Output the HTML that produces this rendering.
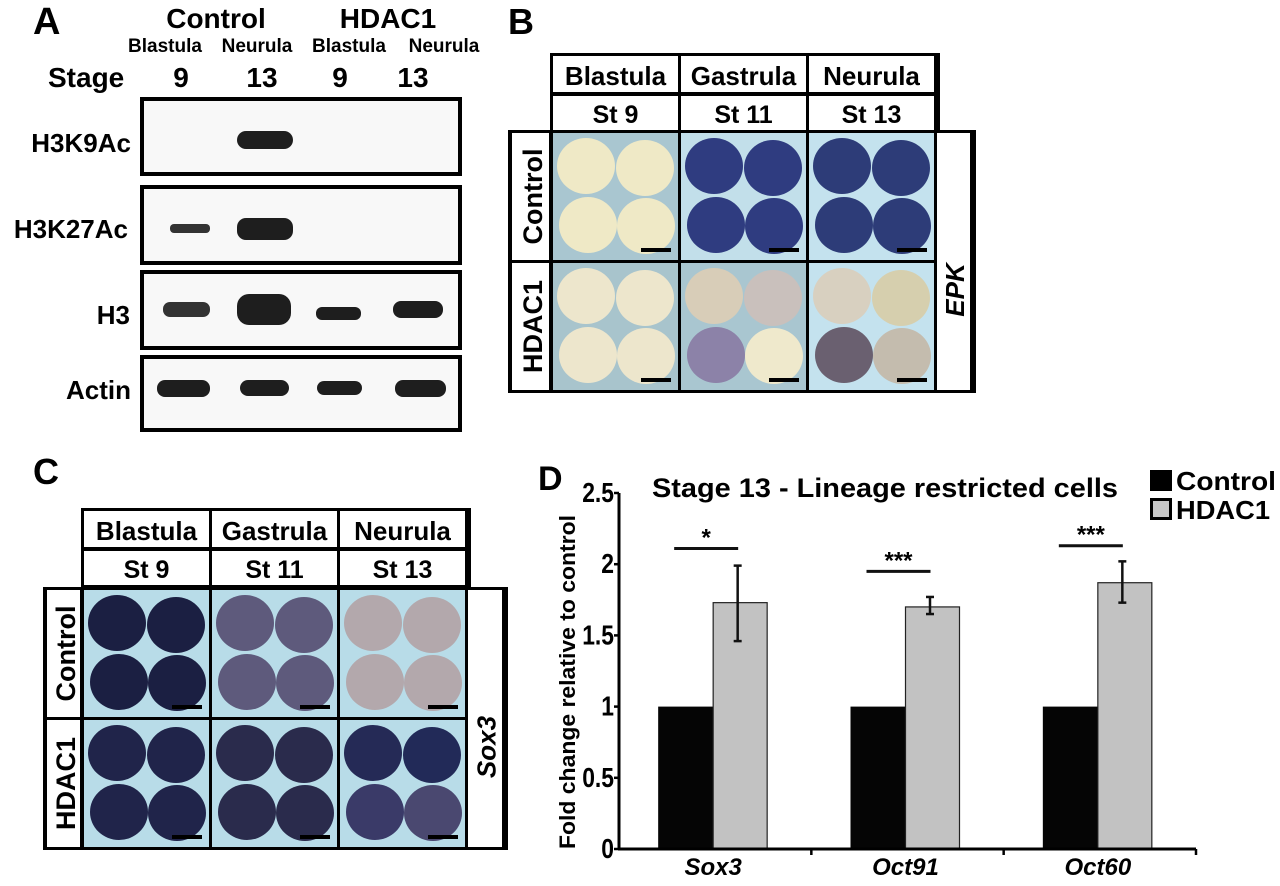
<!DOCTYPE html>
<html><head><meta charset="utf-8"><style>
html,body{margin:0;padding:0;background:#fff;}
svg{display:block;font-family:"Liberation Sans",sans-serif;font-weight:bold;}
</style></head><body>
<svg id="fig" width="1280" height="886" viewBox="0 0 1280 886" xmlns="http://www.w3.org/2000/svg">
<!-- Panel A -->
<g>
<text x="33" y="34" font-size="38">A</text>
<text x="216" y="28" font-size="28" text-anchor="middle">Control</text>
<text x="388" y="28" font-size="28" text-anchor="middle">HDAC1</text>
<g font-size="19" text-anchor="middle">
<text x="165" y="52">Blastula</text>
<text x="257" y="52">Neurula</text>
<text x="349" y="52">Blastula</text>
<text x="444" y="52">Neurula</text>
</g>
<g font-size="28">
<text x="48" y="87">Stage</text>
<text x="181" y="87" text-anchor="middle">9</text>
<text x="262" y="87" text-anchor="middle">13</text>
<text x="340" y="87" text-anchor="middle">9</text>
<text x="413" y="87" text-anchor="middle">13</text>
</g>
<g font-size="26" text-anchor="end">
<text x="131" y="152">H3K9Ac</text>
<text x="128" y="238">H3K27Ac</text>
<text x="130" y="324">H3</text>
<text x="131" y="399">Actin</text>
</g>
<g fill="#f8f8f8" stroke="#000" stroke-width="4">
<rect x="142" y="99" width="318" height="75"/>
<rect x="142" y="187" width="318" height="76"/>
<rect x="142" y="272" width="318" height="76"/>
<rect x="142" y="357" width="318" height="73"/>
</g>
<g fill="#1e1e1e">
<rect x="237" y="131" width="56" height="18" rx="9"/>
<rect x="170" y="224" width="40" height="9" rx="4" fill="#333"/>
<rect x="237" y="218" width="56" height="22" rx="9"/>
<rect x="163" y="302" width="47" height="15" rx="7" fill="#333"/>
<rect x="237" y="294" width="54" height="31" rx="12"/>
<rect x="316" y="307" width="45" height="13" rx="6"/>
<rect x="393" y="301" width="50" height="17" rx="8"/>
<rect x="157" y="380" width="53" height="17" rx="8"/>
<rect x="240" y="380" width="49" height="16" rx="8"/>
<rect x="317" y="381" width="45" height="14" rx="7"/>
<rect x="395" y="380" width="51" height="17" rx="8"/>
</g>
</g>
<!-- Panel B -->
<g>
<text x="508" y="34" font-size="36">B</text>
<g id="gridB"></g>
</g>
<!-- Panel C -->
<g>
<text x="33" y="484" font-size="36">C</text>
<g id="gridC"></g>
</g>
<!-- Panel D -->
<g>
<text x="538" y="490" font-size="34">D</text>
<text x="885" y="497" font-size="27" text-anchor="middle" textLength="466" lengthAdjust="spacingAndGlyphs">Stage 13 - Lineage restricted cells</text>
<text transform="translate(575,682) rotate(-90)" font-size="22" text-anchor="middle" textLength="334" lengthAdjust="spacingAndGlyphs">Fold change relative to control</text>
<rect x="1150" y="470" width="22" height="21" fill="#000"/>
<text x="1176" y="490" font-size="26" textLength="100" lengthAdjust="spacingAndGlyphs">Control</text>
<rect x="1151.5" y="499.5" width="19" height="19" fill="#c8c8c8" stroke="#000" stroke-width="3"/>
<text x="1176" y="519" font-size="26" textLength="94" lengthAdjust="spacingAndGlyphs">HDAC1</text>
<g id="chartD"></g>
</g>
</svg>
<script>
// ---- Chart D data ----
const categories = ["Sox3", "Oct91", "Oct60"];
const controlValues = [1, 1, 1];
const hdac1Values = [1.73, 1.70, 1.87];
const hdac1ErrHigh = [1.99, 1.77, 2.02];
const hdac1ErrLow = [1.46, 1.65, 1.73];
const sigLabels = ["*", "***", "***"];
const sigLevels = [2.11, 1.95, 2.13];
const yTicks = [0, 0.5, 1, 1.5, 2, 2.5];
const yTickLabels = ["0", "0.5", "1", "1.5", "2", "2.5"];

const NS = "http://www.w3.org/2000/svg";
function mk(tag, attrs, parent) {
  const e = document.createElementNS(NS, tag);
  for (const k in attrs) e.setAttribute(k, attrs[k]);
  parent.appendChild(e);
  return e;
}
const X0 = 619, X1 = 1196, Y0 = 849, YMAX = 2.5, YTOP = 493;
function yScale(v) { return Y0 - (v / YMAX) * (Y0 - YTOP); }
const groupW = (X1 - X0) / categories.length;
function groupCenter(i) { return X0 + groupW * (i + 0.5); }
const barW = 55;
const chart = document.getElementById("chartD");

categories.forEach((c, i) => {
  const cx = groupCenter(i) - 2;
  const b1 = mk("rect", {x: cx - barW, y: yScale(controlValues[i]), width: barW, height: Y0 - yScale(controlValues[i]), fill: "#050505"}, chart);
  
  
  const b2 = mk("rect", {x: cx, y: yScale(hdac1Values[i]), width: barW - 1, height: Y0 - yScale(hdac1Values[i]), fill: "#c2c2c2", stroke: "#222", "stroke-width": 1.2}, chart);
  
  
  const ex = cx + barW / 2 - 3;
  const eg = mk("g", {stroke: "#111", "stroke-width": 2.5}, chart);
  
  
  mk("line", {x1: ex, x2: ex, y1: yScale(hdac1ErrHigh[i]), y2: yScale(hdac1ErrLow[i])}, eg);
  mk("line", {x1: ex - 4, x2: ex + 4, y1: yScale(hdac1ErrHigh[i]), y2: yScale(hdac1ErrHigh[i])}, eg);
  mk("line", {x1: ex - 4, x2: ex + 4, y1: yScale(hdac1ErrLow[i]), y2: yScale(hdac1ErrLow[i])}, eg);
  const sl = mk("line", {x1: cx - 39, x2: cx + 25, y1: yScale(sigLevels[i]), y2: yScale(sigLevels[i]), stroke: "#111", "stroke-width": 3}, chart);
  
  
  const st = mk("text", {x: cx - 7, y: yScale(sigLevels[i]) - 3, "font-size": 24, "text-anchor": "middle"}, chart);
  st.textContent = sigLabels[i];
  
  
  const xl = mk("text", {x: cx, y: 875, "font-size": 24, "font-style": "italic", "text-anchor": "middle"}, chart);
  xl.textContent = c;
  
  
  const tk = mk("line", {x1: X0 + groupW * (i + 1), x2: X0 + groupW * (i + 1), y1: Y0, y2: Y0 + 6, stroke: "#000", "stroke-width": 2.5}, chart);
  
  
});
yTicks.forEach((t, i) => {
  const tk = mk("line", {x1: X0 - 5, x2: X0, y1: yScale(t), y2: yScale(t), stroke: "#000", "stroke-width": 2.5}, chart);
  
  
  const tl = mk("text", {transform: "translate(" + (X0 - 5) + "," + (yScale(t) + 9) + ") scale(0.88,1.05)", "font-size": 26, "text-anchor": "end"}, chart);
  tl.textContent = yTickLabels[i];
  
  
});
const ya = mk("line", {x1: X0, x2: X0, y1: YTOP, y2: Y0 + 1, stroke: "#000", "stroke-width": 3}, chart);


const xa = mk("line", {x1: X0 - 1, x2: X1, y1: Y0, y2: Y0, stroke: "#000", "stroke-width": 3}, chart);



// ---- Embryo grids (B and C) ----
function grid(g, ox, oy, colX, hdrY, imgY, rightW, gene, bgs, embryos) {
  const stages = [["Blastula", "St 9"], ["Gastrula", "St 11"], ["Neurula", "St 13"]];
  const W = 128, H1 = 38, H2 = 36, IH = 127;
  mk("rect", {x: colX - 3, y: hdrY - 3, width: 3 * W + 6, height: H1 + H2 + 8, fill: "#000"}, g);
  stages.forEach((s, j) => {
    const x = colX + j * W;
    const r1 = mk("rect", {x: x, y: hdrY, width: W - 3, height: H1 - 2, fill: "#fff"}, g);
    
    
    const t1 = mk("text", {x: x + (W - 3) / 2, y: hdrY + 29, "font-size": 26, "text-anchor": "middle"}, g);
    t1.textContent = s[0];
    
    
    const r2 = mk("rect", {x: x, y: hdrY + H1 + 2, width: W - 3, height: H2 - 2, fill: "#fff"}, g);
    
    
    const t2 = mk("text", {x: x + (W - 3) / 2, y: hdrY + H1 + 29, "font-size": 25, "text-anchor": "middle"}, g);
    t2.textContent = s[1];
    
    
  });
  mk("rect", {x: ox - 3, y: imgY - 3, width: colX - ox + 3 * W + rightW + 6, height: 2 * IH + 9, fill: "#000"}, g);
  ["Control", "HDAC1"].forEach((rowName, r) => {
    const y = imgY + r * (IH + 3);
    const lc = mk("rect", {x: ox + 1, y: y, width: colX - ox - 5, height: IH, fill: "#fff"}, g);
    
    
    const lt = mk("text", {transform: "translate(" + (ox + (colX - ox) / 2 + 10) + "," + (y + IH / 2) + ") rotate(-90)", "font-size": 27, "text-anchor": "middle"}, g);
    lt.textContent = rowName;
    
    
    for (let j = 0; j < 3; j++) {
      const x = colX + j * W;
      const bg = mk("rect", {x: x, y: y, width: W - 3, height: IH, fill: bgs[r][j]}, g);
      
      
      const col = embryos[r][j];
      [[-29, -30], [30, -28], [-27, 29], [31, 30]].forEach(([dx, dy], k) => {
        const e = mk("ellipse", {cx: x + 62 + dx, cy: y + 63 + dy, rx: 29, ry: 28, fill: Array.isArray(col) ? col[k] : col}, g);
        
        
      });
      const sb = mk("rect", {x: x + W - 40, y: y + IH - 12, width: 30, height: 4, fill: "#000"}, g);
      
      
    }
  });
  const rx = colX + 3 * W;
  const gc = mk("rect", {x: rx, y: imgY, width: rightW - 3, height: 2 * IH + 3, fill: "#fff"}, g);
  
  
  const gt = mk("text", {transform: "translate(" + (rx + rightW / 2 + 9) + "," + (imgY + IH + 30) + ") rotate(-90)", "font-size": 26, "font-style": "italic", "text-anchor": "middle"}, g);
  gt.textContent = gene;
  
  
}
grid(document.getElementById("gridB"), 511, 0, 553, 56, 133, 36, "EPK",
  [["#a9c6d0", "#c2dfea", "#c4e2ee"], ["#a8c4cc", "#a9c6d0", "#c4e2ee"]],
  [["#efe9c6", "#2f3c80", "#2d3c78"],
   ["#ede6cc", ["#d8cdb8", "#c9c0bc", "#8c82a8", "#efe9cc"], ["#d8d0c0", "#d6cfae", "#6a6070", "#c4bcae"]]]);
grid(document.getElementById("gridC"), 46, 0, 84, 511, 590, 37, "Sox3",
  [["#b8dce8", "#b8dce8", "#b8dce8"], ["#b8dce8", "#b8dce8", "#b8dce8"]],
  [["#1b1f42", "#5e5a7c", "#b3a8ac"],
   ["#20244a", "#2a2b4c", ["#252a56", "#222a58", "#3a3a68", "#4a4870"]]]);
</script>
</body></html>
